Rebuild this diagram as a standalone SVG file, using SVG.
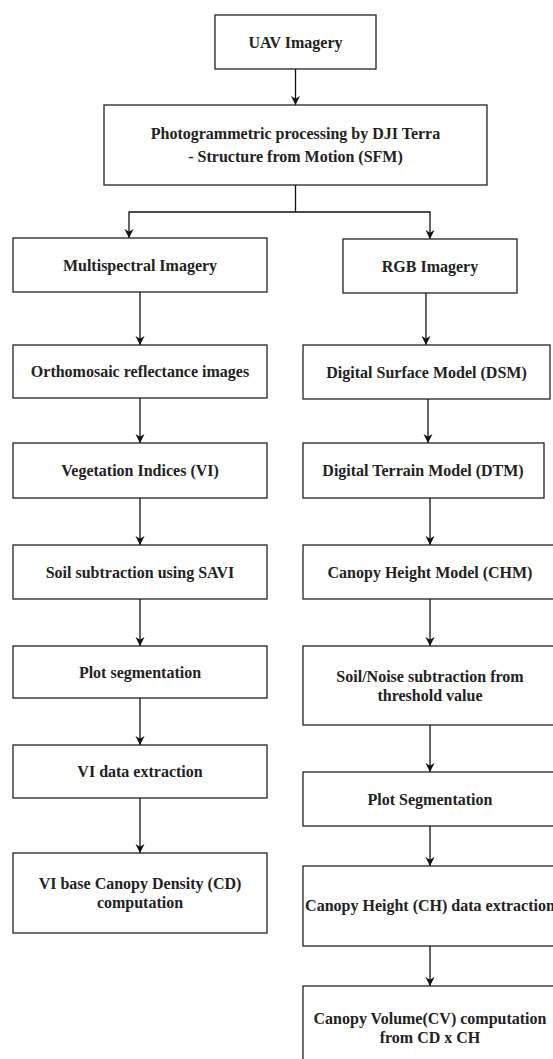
<svg xmlns="http://www.w3.org/2000/svg" width="553" height="1059" viewBox="0 0 553 1059">
<style>
.box{fill:#fff;stroke:#222;stroke-width:1.3}
.t{font-family:"Liberation Serif","Times New Roman",serif;font-size:16px;font-weight:bold;fill:#222;text-anchor:middle}
.c{fill:none;stroke:#111;stroke-width:1.3}
</style>
<defs>
<marker id="ah" viewBox="0 0 10 10" refX="10" refY="5" markerWidth="7" markerHeight="7" orient="auto">
<path d="M0,0 L10,5 L0,10 L3,5 Z" fill="#111"/>
</marker>
</defs>
<rect width="553" height="1059" fill="#fff"/>
<g id="connectors">
<path class="c" d="M295.5,69 L295.5,105" marker-end="url(#ah)"/>
<path class="c" d="M295.5,185 L295.5,212 L129,212 L129,238" marker-end="url(#ah)"/>
<path class="c" d="M295.5,212 L430,212 L430,239" marker-end="url(#ah)"/>
<path class="c" d="M140,292 L140,345" marker-end="url(#ah)"/>
<path class="c" d="M140,398 L140,443" marker-end="url(#ah)"/>
<path class="c" d="M140,498 L140,545" marker-end="url(#ah)"/>
<path class="c" d="M140,599 L140,646" marker-end="url(#ah)"/>
<path class="c" d="M140,698 L140,745" marker-end="url(#ah)"/>
<path class="c" d="M140,798 L140,853" marker-end="url(#ah)"/>
<path class="c" d="M426,293 L426,345" marker-end="url(#ah)"/>
<path class="c" d="M428,399 L428,443" marker-end="url(#ah)"/>
<path class="c" d="M430,498 L430,545" marker-end="url(#ah)"/>
<path class="c" d="M430,599 L430,646" marker-end="url(#ah)"/>
<path class="c" d="M430,725 L430,772" marker-end="url(#ah)"/>
<path class="c" d="M430,826 L430,866" marker-end="url(#ah)"/>
<path class="c" d="M430,946 L430,986" marker-end="url(#ah)"/>
</g>
<g id="uav"><rect class="box" x="215" y="15" width="161" height="54"/><text class="t" x="295.5" y="47.5">UAV Imagery</text></g>
<g id="photogrammetry"><rect class="box" x="104" y="105" width="383" height="80"/><text class="t" x="295.5" y="138.5">Photogrammetric processing by DJI Terra</text><text class="t" x="295.5" y="162">- Structure from Motion (SFM)</text></g>
<g id="multispectral"><rect class="box" x="13" y="238" width="254" height="54"/><text class="t" x="140" y="270.5">Multispectral Imagery</text></g>
<g id="orthomosaic"><rect class="box" x="13" y="345" width="254" height="53"/><text class="t" x="140" y="377">Orthomosaic reflectance images</text></g>
<g id="vi"><rect class="box" x="13" y="443" width="254" height="55"/><text class="t" x="140" y="476">Vegetation Indices (VI)</text></g>
<g id="savi"><rect class="box" x="13" y="545" width="254" height="54"/><text class="t" x="140" y="577.5">Soil subtraction using SAVI</text></g>
<g id="plotseg-left"><rect class="box" x="13" y="646" width="254" height="52"/><text class="t" x="140" y="677.5">Plot segmentation</text></g>
<g id="vi-extract"><rect class="box" x="13" y="745" width="254" height="53"/><text class="t" x="140" y="777">VI data extraction</text></g>
<g id="cd"><rect class="box" x="13" y="853" width="254" height="80"/><text class="t" x="140" y="889">VI base Canopy Density (CD)</text><text class="t" x="140" y="908">computation</text></g>
<g id="rgb"><rect class="box" x="343" y="239" width="174" height="54"/><text class="t" x="430" y="271.5">RGB Imagery</text></g>
<g id="dsm"><rect class="box" x="303" y="345" width="247" height="54"/><text class="t" x="426.5" y="377.5">Digital Surface Model (DSM)</text></g>
<g id="dtm"><rect class="box" x="303" y="443" width="241" height="55"/><text class="t" x="423" y="476">Digital Terrain Model (DTM)</text></g>
<g id="chm"><rect class="box" x="303" y="545" width="254" height="54"/><text class="t" x="430" y="577.5">Canopy Height Model (CHM)</text></g>
<g id="noise"><rect class="box" x="303" y="646" width="254" height="79"/><text class="t" x="430" y="682">Soil/Noise subtraction from</text><text class="t" x="430" y="701">threshold value</text></g>
<g id="plotseg-right"><rect class="box" x="303" y="772" width="254" height="54"/><text class="t" x="430" y="804.5">Plot Segmentation</text></g>
<g id="ch"><rect class="box" x="303" y="866" width="254" height="80"/><text class="t" x="430" y="911">Canopy Height (CH) data extraction</text></g>
<g id="cv"><rect class="box" x="303" y="986" width="254" height="80"/><text class="t" x="430" y="1024">Canopy Volume(CV) computation</text><text class="t" x="430" y="1043">from CD x CH</text></g>
</svg>
